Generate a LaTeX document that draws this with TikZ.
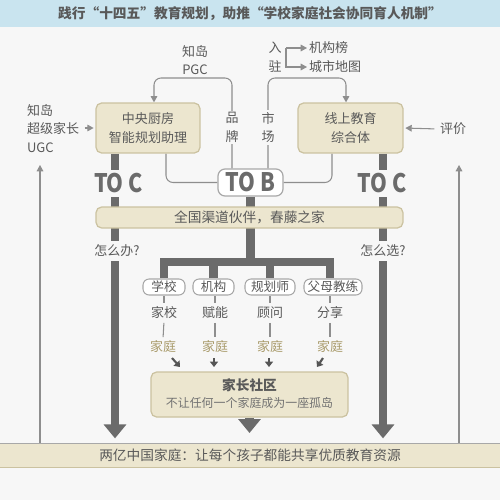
\documentclass[tikz,border=0pt]{standalone}
\usepackage{fontspec}
\setmainfont{Noto Sans CJK SC}
\usetikzlibrary{arrows.meta}
\pgfdeclarelayer{back}
\pgfdeclarelayer{links}
\pgfsetlayers{back,links,main}
\definecolor{bgc}{HTML}{F7F7F7}
\definecolor{titlebg}{HTML}{C9E4EF}
\definecolor{beige}{HTML}{ECE6CF}
\definecolor{bline}{HTML}{CBC2A0}
\definecolor{pline}{HTML}{A8A8A8}
\definecolor{barc}{HTML}{6B6B6B}
\definecolor{tc}{HTML}{595959}
\definecolor{lc}{HTML}{8E8E8E}
\definecolor{tanc}{HTML}{A99B6B}
\definecolor{darkc}{HTML}{555555}
\newcommand{\fsn}{\fontsize{7.4}{10.7}\selectfont}
\newcommand{\fsp}{\fontsize{7.2}{9}\selectfont}
\newcommand{\fsm}{\fontsize{6.8}{8}\selectfont}
\newcommand{\fsb}{\fontsize{7.8}{9}\selectfont}
\newcommand{\tobfont}{\bfseries\fontsize{14.5}{15}\selectfont}
\newcommand{\narrow}[1]{\scalebox{0.84}[1]{#1}}
\begin{document}
\begin{tikzpicture}[x=0.02cm,y=-0.02cm,
  txt/.style={text=tc, font=\fsn, inner sep=1pt},
  bbox/.style={draw=bline, fill=beige, line width=0.7pt, rounded corners=3.2pt, text=tc, font=\fsn, align=center, inner sep=0pt},
  pill/.style={draw=pline, fill=white, line width=0.6pt, rounded corners=3.5pt, text=tc, font=\fsp, inner sep=0pt, minimum height=0.32cm},
  thin/.style={draw=lc, line width=0.6pt},
  tarrow/.style={thin, -{Triangle[length=3.6pt,width=3.8pt]}},
  arr2/.style={draw=darkc, line width=1.2pt, -{Triangle[length=3pt,width=4.5pt]}},
  bar/.style={draw=barc, line width=5pt},
  bigtip/.style={-{Triangle[length=0.28cm,width=0.44cm]}},
  toc/.style={fill=bgc, text=barc, inner xsep=1pt, inner ysep=2pt, font=\tobfont},
  ask/.style={txt, fill=bgc, inner ysep=2pt}
]
\useasboundingbox (0,0) rectangle (500,500);
\begin{pgfonlayer}{back}
  \fill[bgc] (0,0) rectangle (500,500);
  \fill[titlebg] (0,0) rectangle (500,27);
\end{pgfonlayer}
\node[font=\bfseries\fsb, text=tc] (title) at (250,14) {践行“十四五”教育规划，助推“学校家庭社会协同育人机制”};

% main boxes
\node[bbox, minimum width=2.08cm, minimum height=1cm] (zy) at (148,128) {中央厨房\\智能规划助理};
\node[bbox, minimum width=2.1cm, minimum height=1cm] (xs) at (350.5,128) {线上教育\\综合体};
\node[draw=pline, fill=white, rounded corners=4pt, minimum width=1.3cm, minimum height=0.54cm, line width=0.7pt, inner sep=0pt, text=barc, font=\tobfont] (tob) at (250.5,182.5) {\narrow{TO B}};
\node[bbox, minimum width=6.14cm, minimum height=0.42cm, font=\fsb] (qg) at (249.5,217.5) {全国渠道伙伴，春藤之家};

% side texts
\node[txt, align=left, anchor=west] (ugc) at (25,128.5) {知岛\\超级家长\\UGC};
\node[txt, align=center] (pgc) at (195,60) {知岛\\PGC};
\node[txt] (pj) at (453,129) {评价};
\node[txt, align=center] (rz) at (275,57.5) {入\\驻};
\node[txt, anchor=west] (jgb) at (307,48) {机构榜};
\node[txt, anchor=west] (csdt) at (307,67) {城市地图};
\coordinate (bk) at (286,48);
\coordinate (lt) at (40,165);
\coordinate (rt) at (459,165);
\coordinate (lb) at (115,0);
\coordinate (rb) at (383,0);
\coordinate (pp) at (232,127.5);
\coordinate (sc) at (268,127.5);

% pills
\node[pill, minimum width=0.84cm] (p1) at (164,287) {学校};
\node[pill, minimum width=0.82cm] (p2) at (213.5,287) {机构};
\node[pill, minimum width=1.0cm] (p3) at (270,287) {规划师};
\node[pill, minimum width=1.16cm] (p4) at (333,287) {父母教练};
\node[txt] (r1) at (164,313) {家校};
\node[txt] (r2) at (215,313) {赋能};
\node[txt] (r3) at (270,313) {顾问};
\node[txt] (r4) at (330,313) {分享};
\node[txt, text=tanc] (h1) at (163,347) {家庭};
\node[txt, text=tanc] (h2) at (215,347) {家庭};
\node[txt, text=tanc] (h3) at (270,347) {家庭};
\node[txt, text=tanc] (h4) at (330,347) {家庭};

% community box
\node[bbox, minimum width=3.94cm, minimum height=0.9cm] (jz) at (249.5,394.5) {};
\node[txt, font=\bfseries\fsb] (jzt) at (249.5,385) {家长社区};
\node[txt, font=\fsm, text=tc!85] (jzs) at (249.5,403) {不让任何一个家庭成为一座孤岛};

% bottom band
\node[fill=beige, minimum width=10cm, minimum height=0.46cm, inner sep=0pt, font=\fsb, text=tc] (bt) at (250,455.5) {两亿中国家庭：让每个孩子都能共享优质教育资源};
\draw[draw=pline, line width=0.6pt] (bt.north west) -- (bt.north east);
\draw[draw=bline, line width=0.6pt] (bt.south west) -- (bt.south east);

\begin{pgfonlayer}{links}
  % thick bars
  \draw[bar, bigtip, shorten >=3pt] (zy.south -| lb) -- (bt.north -| lb);
  \draw[bar, bigtip, shorten >=3pt] (xs.south -| rb) -- (bt.north -| rb);
  \draw[bar] (tob.south) -- (tob.south |- 0,262);
  \draw[bar] (p1.north) -- (p1.north |- 0,262) -- (r4.north |- 0,262) -- (r4 |- p4.north);
  \draw[bar] (p2.north |- 0,262) -- (p2.north);
  \draw[bar] (p3.north |- 0,262) -- (p3.north);
  \draw[bar, bigtip] (jz.south) -- (jz.south |- 0,433);
  % thin connectors
  \draw[tarrow, rounded corners=4pt] (tob.north -| pp) -- (pp |- 0,78) -- (154,78) -- ([xshift=0.12cm]zy.north);
  \draw[tarrow, rounded corners=4pt] (tob.north -| sc) -- (sc |- 0,78) -- (346,78) -- ([xshift=-0.09cm]xs.north);
  \draw[thin, rounded corners=4pt] ([xshift=0.36cm]zy.south) |- (tob.west);
  \draw[thin, rounded corners=4pt] ([xshift=-0.37cm]xs.south) |- (tob.east);
  \draw[tarrow, shorten <=2pt, shorten >=1pt] (ugc.east |- zy.west) -- (zy.west);
  \draw[tarrow, shorten <=2pt, shorten >=1pt] (pj.west) -- (xs.east);
  \draw[tarrow] (bk) -- (jgb.west);
  \draw[tarrow] (bk) |- (csdt.west);
  \draw[tarrow] (bt.north -| lt) -- (lt);
  \draw[tarrow] (bt.north -| rt) -- (rt);
  \foreach \i in {1,2,3,4}{
    \draw[thin, shorten >=1pt] (r\i.north |- p\i.south) -- (r\i.north);
    \draw[thin, shorten <=1pt, shorten >=1pt] (r\i.south) -- (h\i.north);
  }
  \draw[arr2] ([shift={(9,11)}]h1.center) -- ([shift={(17,20)}]h1.center);
  \draw[arr2] ([shift={(-1,11)}]h2.center) -- ([shift={(-1,20)}]h2.center);
  \draw[arr2] ([shift={(-1,11)}]h3.center) -- ([shift={(-1,20)}]h3.center);
  \draw[arr2] ([shift={(-7,11)}]h4.center) -- ([shift={(-13,20)}]h4.center);
\end{pgfonlayer}

% labels over lines
\node[txt, align=center, fill=bgc] (ppl) at (pp) {品\\牌};
\node[txt, align=center, fill=bgc] (scl) at (sc) {市\\场};
\node[toc] (tocl) at (118.5,183.5) {\narrow{TO C}};
\node[toc] (tocr) at (382,183.5) {\narrow{TO C}};
\node[ask] (zmb) at (117,251) {怎么办?};
\node[ask] (zmx) at (383,251) {怎么选?};
\end{tikzpicture}
\end{document}
